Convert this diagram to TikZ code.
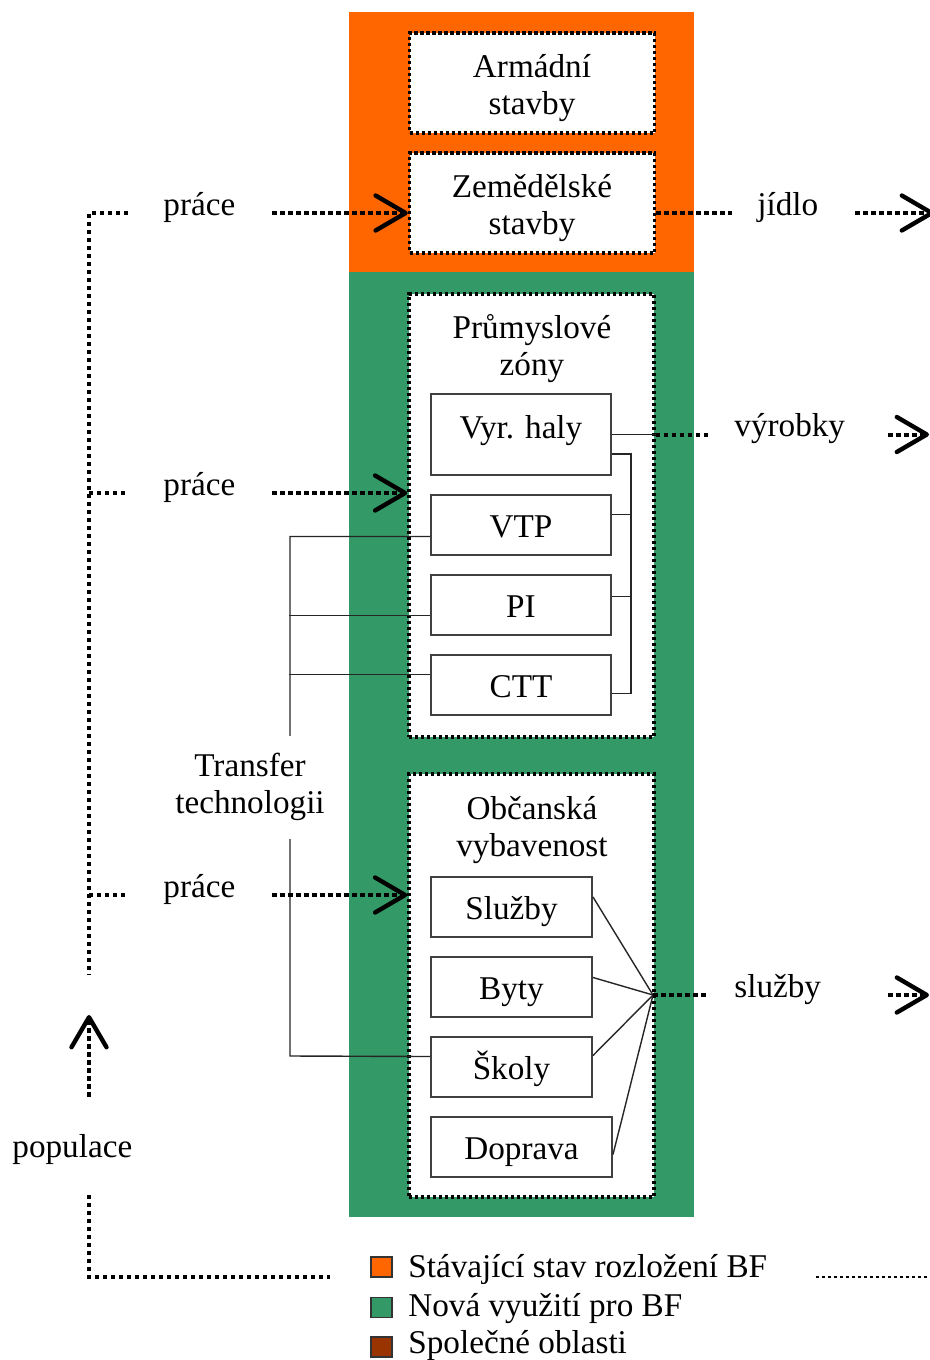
\documentclass[tikz,border=0pt]{standalone}
\usepackage{fontspec}
\setmainfont{Liberation Serif}
\usetikzlibrary{arrows.meta, positioning}
\definecolor{bforange}{RGB}{255,102,0}
\definecolor{bfgreen}{RGB}{51,153,102}
\definecolor{bfbrown}{RGB}{153,51,0}

\begin{document}
\begin{tikzpicture}[
    x=0.5pt, y=-0.5pt,
    node distance=40pt,
    on grid,
    font=\fontsize{16.6}{18.5}\selectfont,
    zone/.style={draw=black, fill=white, line width=1.7pt, dash pattern=on 1.7pt off 1.3pt, minimum width=122.5pt, inner sep=0pt},
    title/.style={align=center, inner sep=0pt},
    unit/.style={draw=black!75, fill=white, line width=1pt, minimum width=90pt, minimum height=30pt, inner sep=0pt, text height=12.5pt, text depth=0pt},
    tag/.style={anchor=base west, inner sep=0pt},
    flow/.style={line width=2pt, dash pattern=on 2.3pt off 1.7pt},
    popline/.style={line width=2pt, dash pattern=on 2pt off 2pt},
    link/.style={black!85, line width=0.7pt},
    key/.style={draw=black!80, line width=0.6pt, minimum width=10.5pt, minimum height=10pt, inner sep=0pt},
    >={Straight Barb[length=15pt, width=17.5pt, line width=2.2pt, round]}
]
   \clip (0,0) rectangle (930,1360);

   % Bands
   \fill[bforange] (349,12) rectangle (694,272);
   \fill[bfgreen] (349,272) rectangle (694,1217);

   % Zones
   \node[zone, minimum height=50pt] (arm) at (532,83) {};
   \node[zone, minimum height=50pt] (zem) at (532,203) {};
   \node[zone, minimum height=221.5pt] (prum) at (531.5,515.5) {};
   \node[zone, minimum height=211.5pt] (obc) at (531.5,985.5) {};
   \node[title] (armt) at (532,88) {Armádní\\stavby};
   \node[title] (zemt) at (532,208) {Zemědělské\\stavby};
   \node[title] (prumt) at (532,349) {Průmyslové\\zóny};
   \node[title] (obct) at (532,830) {Občanská\\vybavenost};

   % Units
   \node[unit, minimum height=40.5pt, text height=11pt, text depth=7.5pt] (vyr) at (521,434.5) {Vyr. haly};
   \node[unit] (vtp) [below=45pt of vyr] {VTP};
   \node[unit] (pi) [below=of vtp] {PI};
   \node[unit] (ctt) [below=of pi] {CTT};
   \node[unit, minimum width=80.5pt] (sluzby) at (511.5,906.5) {Služby};
   \node[unit, minimum width=80.5pt] (byty) [below=of sluzby] {Byty};
   \node[unit, minimum width=80.5pt] (skoly) [below=of byty] {Školy};
   \node[unit, minimum width=90.5pt] (doprava) [below=of skoly, xshift=5pt] {Doprava};

   % Links
   \draw[link] ([yshift=-9.75pt]vyr.east) -- ++(19,0) |- ([yshift=-4.5pt]ctt.east);
   \draw[link] ([yshift=5pt]vtp.east) -- ++(19,0);
   \draw[link] ([yshift=4pt]pi.east) -- ++(19,0);
   \draw[link] (vyr.east) -- (prum.east |- vyr.east);
   \coordinate (hub) at (653,995);
   \draw[link] ([yshift=4.75pt]sluzby.east) -- (hub);
   \draw[link] ([yshift=4.5pt]byty.east) -- (hub);
   \draw[link] ([yshift=5.5pt]skoly.east) -- (hub);
   \draw[link] ([yshift=-4pt]doprava.east) -- (hub);
   \coordinate (tt) at (290,1056);
   \draw[link] ([yshift=-6pt]vtp.west) -| (tt) -- ([yshift=5pt]skoly.west);
   \draw[link] ([yshift=-5.5pt]pi.west) -- ++(-141,0);
   \draw[link] ([yshift=5pt]ctt.west) -- ++(-141,0);
   \node[fill=white, align=center, minimum width=80pt, minimum height=51.5pt] (transfer) at (250,787) {Transfer\\technologii};

   % Inputs: práce
   \coordinate (p1) at (272,213);
   \coordinate (p2) at (272,493);
   \coordinate (p3) at (272,895);
   \draw[flow, ->] (p1) -- (zem.west |- p1);
   \draw[flow, ->] (p2) -- (prum.west |- p2);
   \draw[flow, ->] (p3) -- (obc.west |- p3);
   \node[tag] (prace1) at (163,215) {práce};
   \node[tag] (prace2) at (163,495) {práce};
   \node[tag] (prace3) at (163,897) {práce};

   % Outputs
   \coordinate (j1) at (732,213);
   \coordinate (j2) at (855,213);
   \coordinate (j3) at (934,213);
   \draw[flow] (zem.east |- j1) -- (j1);
   \draw[flow, ->] (j2) -- (j3);
   \node[tag] (jidlo) at (757,215) {jídlo};
   \coordinate (v1) at (708,434.5);
   \coordinate (v2) at (888,434.5);
   \coordinate (v3) at (929,434.5);
   \draw[flow] (prum.east |- v1) -- (v1);
   \draw[flow, ->] (v2) -- (v3);
   \node[tag] (vyrobky) at (734,436) {výrobky};
   \coordinate (s1) at (708,995);
   \coordinate (s2) at (888,995);
   \coordinate (s3) at (929,995);
   \draw[flow] (hub) -- (s1);
   \draw[flow, ->] (s2) -- (s3);
   \node[tag] (sluzbyout) at (734,997) {služby};

   % Populace loop
   \coordinate (l1) at (128,213);
   \coordinate (l2) at (89,975);
   \draw[popline] (l1) -| (l2);
   \draw[popline] (89,493) -- (128,493);
   \draw[popline] (89,895) -- (128,895);
   \coordinate (u1) at (89,1097);
   \coordinate (u2) at (89,1015);
   \draw[flow, ->] (u1) -- (u2);
   \node[tag] (pop) at (12,1157) {populace};
   \coordinate (b1) at (89,1195);
   \coordinate (b2) at (330,1277);
   \draw[popline] (b1) |- (b2);
   \coordinate (b3) at (816,1277);
   \coordinate (b4) at (930,1277);
   \draw[line width=1.3pt, dash pattern=on 1.6pt off 1.4pt] (b3) -- (b4);

   % Legend
   \node[key, fill=bforange] (k1) at (381.5,1267) {};
   \node[key, fill=bfgreen] (k2) at (381.5,1307.5) {};
   \node[key, fill=bfbrown] (k3) at (381.5,1347) {};
   \node[tag] (t1) at (408,1277) {Stávající stav rozložení BF};
   \node[tag] (t2) at (408,1316) {Nová využití pro BF};
   \node[tag] (t3) at (408,1353) {Společné oblasti};
\end{tikzpicture}
\end{document}
